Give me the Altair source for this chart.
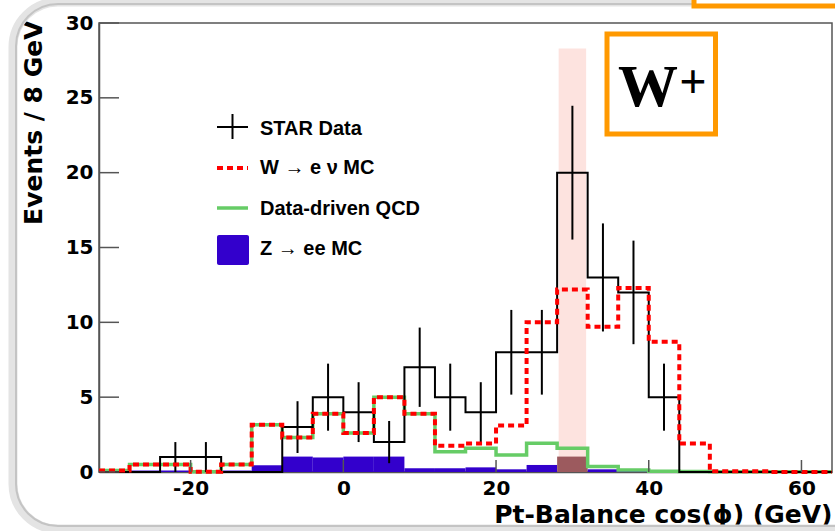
import altair as alt
import pandas as pd

# ---------------- data ----------------
bin_lo = list(range(-32, 64, 4))          # 4 GeV bins from -32 to 64
star = [0, 0, 1, 1, 0, 0, 3, 5, 4, 2, 7, 5, 4, 8, 8, 20, 13, 12, 5, 0, 0, 0, 0, 0]
star_err = [0, 0, 1, 1, 0, 0, 1.73, 2.24, 2, 1.41, 2.65, 2.24, 2, 2.83, 2.83,
            4.47, 3.61, 3.46, 2.24, 0, 0, 0, 0, 0]
w_mc = [0.1, 0.5, 0.5, 0.02, 0.5, 3.15, 2.3, 3.9, 2.6, 5.0, 3.9, 1.75, 1.9, 3.1,
        10.0, 12.2, 9.7, 12.3, 8.7, 1.9, 0.05, 0.05, 0.0, 0.0]
qcd = [0.1, 0.5, 0.5, 0.02, 0.5, 3.15, 2.3, 3.9, 2.6, 5.0, 3.9, 1.36, 1.58, 1.14,
       1.92, 1.58, 0.36, 0.13, 0.05, 0.03, 0.02, 0.02, 0.02, 0.02]
z_mc = [0, 0.1, 0.1, 0.1, 0.1, 0.45, 1.03, 0.97, 1.03, 1.03, 0.25, 0.25, 0.31, 0.18,
        0.47, 1.03, 0.18, 0.07, 0.03, 0, 0, 0, 0, 0]
band_range = [28.2, 31.8]
band_top = [28.3]
x_ticks = [-20, 0, 20, 40, 60]
y_ticks = [0, 5, 10, 15, 20, 25, 30]
x_title = "Pt-Balance cos(ϕ) (GeV)"
y_title = "Events / 8 GeV"
legend_labels = ["STAR Data", "W → e ν MC", "Data-driven QCD", "Z → ee MC"]
box_label = ["W", "+"]

BW = 4
W, H = 733, 449
XS = alt.Scale(domain=[-32, 64], nice=False, zero=False)
YS = alt.Scale(domain=[0, 30], nice=False, zero=False)

BLUE = "#3300CC"
BROWN = "#9C5A5E"
RED = "#FF0000"
GREEN = "#66CC66"
PINK = "#FDE3DF"
ORANGE = "#FF9900"
AX = "#555555"

XA = alt.Axis(
    values=x_ticks, title=x_title, labelExpr="'' + datum.value",
    labelFont="DejaVu Sans", labelFontWeight="bold", labelFontSize=20,
    labelColor="black", labelPadding=6, ticks=False, tickSize=0,
    domainColor=AX, domainWidth=1.5, grid=False, labelFlush=False,
    labelOverlap=False,
    titleFont="DejaVu Sans", titleFontWeight="bold", titleFontSize=25,
    titleColor="black", titleAnchor="end", titleAlign="right",
    titleBaseline="alphabetic", titleX=W, titleY=50)
YA = alt.Axis(
    values=y_ticks, title=y_title, labelExpr="'' + datum.value",
    labelFont="DejaVu Sans", labelFontWeight="bold", labelFontSize=20,
    labelColor="black", labelPadding=6, ticks=False, tickSize=0,
    domainColor=AX, domainWidth=1.5, grid=False, labelFlush=False,
    labelOverlap=False,
    titleFont="DejaVu Sans", titleFontWeight="bold", titleFontSize=25,
    titleColor="black", titleAngle=270, titleAlign="right",
    titleBaseline="alphabetic", titleX=-58, titleY=-3)

hist = pd.DataFrame({"lo": bin_lo, "star": star, "err": star_err,
                     "w": w_mc, "qcd": qcd, "z": z_mc})
hist["hi"] = hist["lo"] + BW
hist["c"] = hist["lo"] + BW / 2
hist["elo"] = hist["star"] - hist["err"]
hist["ehi"] = hist["star"] + hist["err"]


def steps(col):
    xs = list(hist["lo"]) + [hist["hi"].iloc[-1]]
    ys = list(hist[col]) + [hist[col].iloc[-1]]
    return pd.DataFrame({"x": xs, "y": ys})


def step_line(col, **kw):
    return alt.Chart(steps(col)).mark_line(interpolate="step-after", **kw).encode(
        x=alt.X("x:Q", scale=XS, axis=XA),
        y=alt.Y("y:Q", scale=YS, axis=YA),
    )


one = alt.Data(values=[{}])

# ---------------- decorations (slide frame) ----------------
frame_outer = alt.Chart(one).mark_rect(filled=False, stroke="#E4E4E4", strokeWidth=9,
                                       cornerRadius=45).encode(
    x=alt.value(-86), x2=alt.value(820), y=alt.value(-21), y2=alt.value(506))
frame_inner = alt.Chart(one).mark_rect(filled=False, stroke="#C4C4C4", strokeWidth=2,
                                       cornerRadius=42).encode(
    x=alt.value(-83), x2=alt.value(818), y=alt.value(-19), y2=alt.value(503))
top_box = alt.Chart(one).mark_rect(fill="white", stroke=ORANGE, strokeWidth=5).encode(
    x=alt.value(595), x2=alt.value(800), y=alt.value(-80), y2=alt.value(-17))

# ---------------- plot layers ----------------
band = alt.Chart(pd.DataFrame({"lo": [band_range[0]], "hi": [band_range[1]],
                               "top": band_top})).mark_rect(color=PINK).encode(
    x=alt.X("lo:Q", scale=XS, axis=XA), x2="hi",
    y=alt.Y("top:Q", scale=YS, axis=YA), y2=alt.datum(0))

zbars = alt.Chart(hist).mark_rect().encode(
    x=alt.X("lo:Q", scale=XS, axis=XA),
    x2="hi",
    y=alt.Y("z:Q", scale=YS, axis=YA),
    y2=alt.datum(0),
    color=alt.condition(
        f"datum.hi > {band_range[0]} && datum.lo < {band_range[1]}",
        alt.value(BROWN), alt.value(BLUE)),
)

qcd_line = step_line("qcd", color=GREEN, strokeWidth=3.5)
star_line = step_line("star", color="black", strokeWidth=2)
err_bars = alt.Chart(hist).transform_filter("datum.star > 0").mark_rule(
    color="black", strokeWidth=2).encode(
    x=alt.X("c:Q", scale=XS, axis=XA),
    y=alt.Y("elo:Q", scale=YS, axis=YA), y2="ehi")
w_line = step_line("w", color=RED, strokeWidth=4, strokeDash=[6, 4], strokeCap="butt")

# inward ROOT-style ticks
yt = alt.Chart(pd.DataFrame({"v": y_ticks})).mark_rule(color=AX, strokeWidth=1.5).encode(
    y=alt.Y("v:Q", scale=YS, axis=YA), x=alt.value(0), x2=alt.value(20))
xt = alt.Chart(pd.DataFrame({"v": x_ticks})).mark_rule(color=AX, strokeWidth=1.5).encode(
    x=alt.X("v:Q", scale=XS, axis=XA), y=alt.value(H), y2=alt.value(H - 12))

# ---------------- legend ----------------
leg = []
leg.append(alt.Chart(one).mark_rule(color="black", strokeWidth=2).encode(
    x=alt.value(118), x2=alt.value(149), y=alt.value(104)))
leg.append(alt.Chart(one).mark_rule(color="black", strokeWidth=2).encode(
    x=alt.value(133.5), y=alt.value(91), y2=alt.value(116)))
leg.append(alt.Chart(one).mark_rule(color=RED, strokeWidth=4, strokeDash=[6, 4],
                                    strokeCap="butt").encode(
    x=alt.value(118), x2=alt.value(149), y=alt.value(145)))
leg.append(alt.Chart(one).mark_rule(color=GREEN, strokeWidth=3.5).encode(
    x=alt.value(118), x2=alt.value(149), y=alt.value(185)))
leg.append(alt.Chart(one).mark_rect(color=BLUE, cornerRadius=2).encode(
    x=alt.value(118), x2=alt.value(150), y=alt.value(212), y2=alt.value(242)))
for lab, yb in zip(legend_labels, [112, 151, 192, 232]):
    leg.append(alt.Chart(one).mark_text(
        text=lab, font="Liberation Sans", fontWeight="bold", fontSize=20,
        align="left", baseline="alphabetic", color="black").encode(
        x=alt.value(161), y=alt.value(yb)))

# ---------------- W+ box ----------------
wbox = alt.Chart(one).mark_rect(filled=False, stroke=ORANGE, strokeWidth=5).encode(
    x=alt.value(508), x2=alt.value(616.5), y=alt.value(11), y2=alt.value(111))
wtext = alt.Chart(one).mark_text(
    text=box_label[0], font="Liberation Serif", fontWeight="bold", fontSize=60,
    align="center", baseline="alphabetic", color="black").encode(
    x=alt.value(549), y=alt.value(83))
ptext = alt.Chart(one).mark_text(
    text=box_label[1], font="Liberation Serif", fontWeight="bold", fontSize=48,
    align="center", baseline="alphabetic", color="black").encode(
    x=alt.value(594), y=alt.value(75))

chart = alt.layer(
    frame_outer, frame_inner, top_box,
    band, zbars, qcd_line, star_line, err_bars, w_line, yt, xt,
    *leg, wbox, wtext, ptext,
).properties(
    width=W, height=H,
    padding={"left": 99, "top": 23, "right": 3, "bottom": 59},
    autosize=alt.AutoSizeParams(type="none"),
    background="white",
).configure_view(stroke=AX, strokeWidth=1.5)

chart.save("out.html", embed_options={"renderer": "svg", "actions": False})
